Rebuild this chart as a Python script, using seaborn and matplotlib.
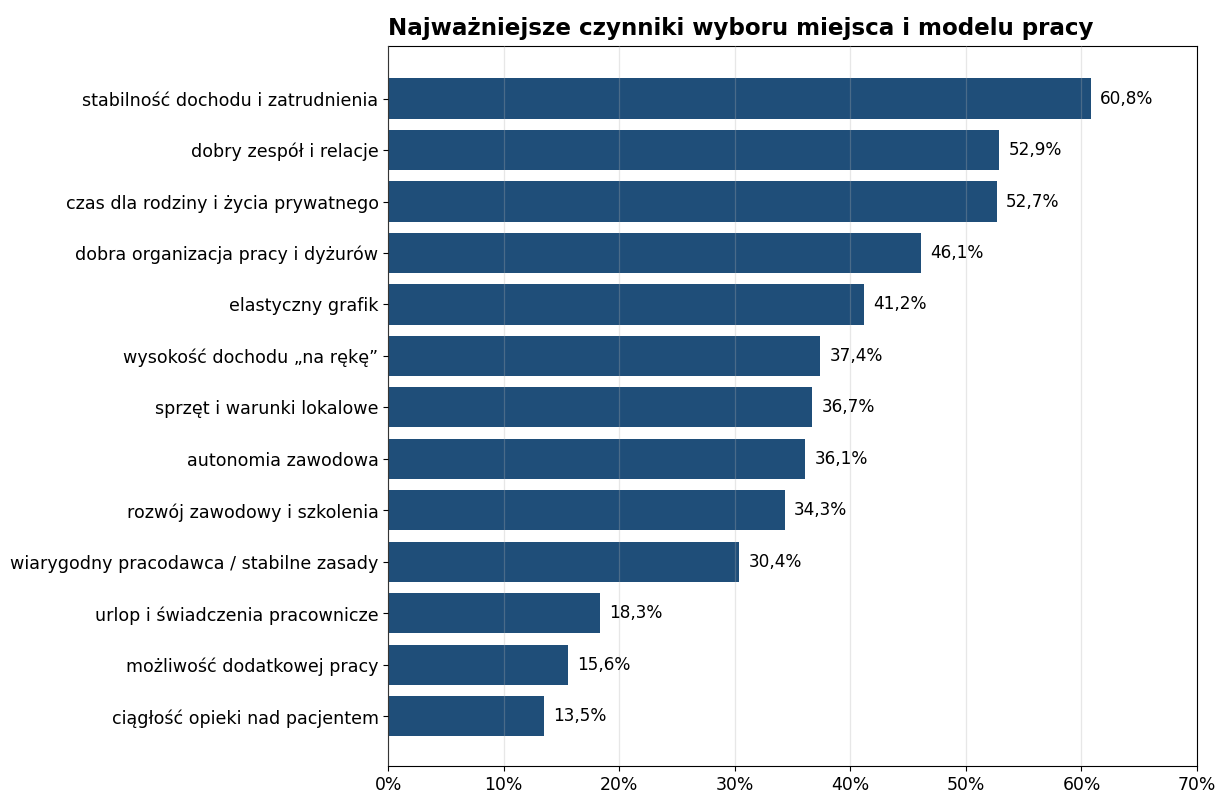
import matplotlib
matplotlib.use('Agg')
import matplotlib.pyplot as plt
from matplotlib.ticker import PercentFormatter
import seaborn as sns
import pandas as pd

# data
factors = [
    'stabilność dochodu i zatrudnienia',
    'dobry zespół i relacje',
    'czas dla rodziny i życia prywatnego',
    'dobra organizacja pracy i dyżurów',
    'elastyczny grafik',
    'wysokość dochodu „na rękę”',
    'sprzęt i warunki lokalowe',
    'autonomia zawodowa',
    'rozwój zawodowy i szkolenia',
    'wiarygodny pracodawca / stabilne zasady',
    'urlop i świadczenia pracownicze',
    'możliwość dodatkowej pracy',
    'ciągłość opieki nad pacjentem',
]
pct = [60.8, 52.9, 52.7, 46.1, 41.2, 37.4, 36.7, 36.1, 34.3, 30.4, 18.3, 15.6, 13.5]

df = pd.DataFrame({'czynnik': factors, 'pct': pct})

plt.rcParams['font.family'] = 'sans-serif'
plt.rcParams['font.sans-serif'] = ['DejaVu Sans']
fig, ax = plt.subplots(figsize=(12.17, 7.94), dpi=100)
fig.subplots_adjust(left=0.319, right=0.9836, top=0.942, bottom=0.035)

sns.barplot(data=df, x='pct', y='czynnik', orient='h', color='#1f4e79',
            saturation=1, width=0.78, linewidth=0, ax=ax)

for i, v in enumerate(df.pct):
    ax.annotate(f'{v:.1f}%'.replace('.', ','), xy=(v, i), xytext=(6.5, 0),
                textcoords='offset points', va='center', ha='left', fontsize=12.2)

ax.set_xlim(0, 70)
ax.set_ylim(len(df) - 0.03, -1.02)
ax.set_xticks(range(0, 71, 10))
ax.xaxis.set_major_formatter(PercentFormatter(decimals=0))
ax.grid(axis='x', color='#b0b0b0', alpha=0.3, linewidth=0.9)
ax.set_axisbelow(False)
ax.tick_params(axis='x', labelsize=12.4)
ax.tick_params(axis='y', labelsize=12.6)
ax.set_xlabel('')
ax.set_ylabel('')
ax.set_title('Najważniejsze czynniki wyboru miejsca i modelu pracy',
             loc='left', fontsize=16.6, fontweight='bold', pad=8)

fig.savefig('out.png', dpi=100)
